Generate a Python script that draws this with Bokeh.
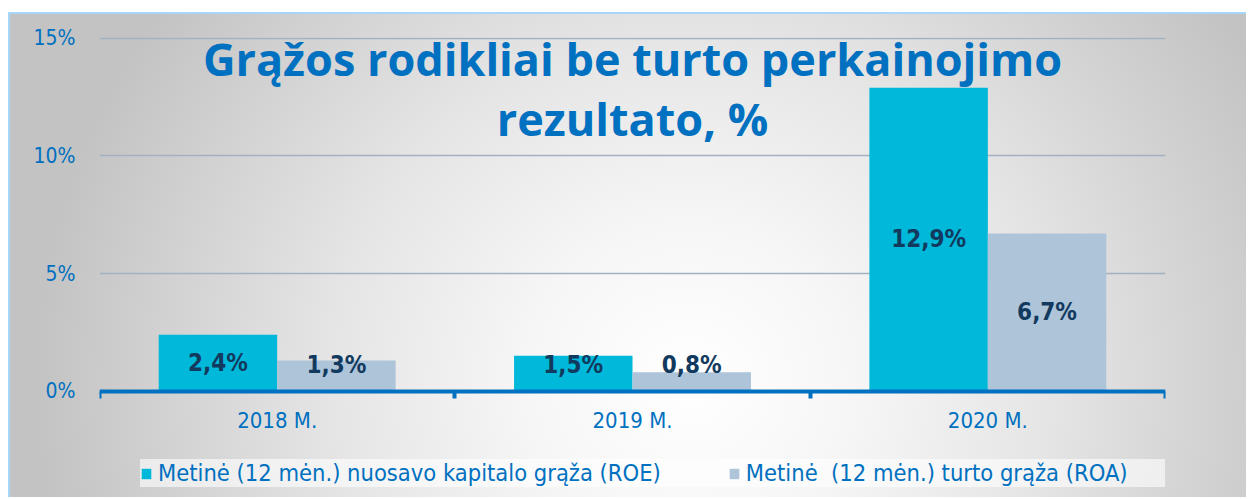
import numpy as np
from bokeh.plotting import figure
from bokeh.models import (ColumnDataSource, FixedTicker, Label, LabelSet, Legend,
                          LegendItem, Range1d)
from bokeh.transform import dodge
from bokeh.core.properties import value
from bokeh.embed import file_html
from bokeh.resources import INLINE

# ---- data ----
years = ["2018 M.", "2019 M.", "2020 M."]
roe = [2.4, 1.5, 12.9]
roa = [1.3, 0.8, 6.7]
roe_labels = ["2,4%", "1,5%", "12,9%"]
roa_labels = ["1,3%", "0,8%", "6,7%"]
y_ticks = [0, 5, 10, 15]
y_tick_labels = ["0%", "5%", "10%", "15%"]
series_names = ["Metinė (12 mėn.) nuosavo kapitalo grąža (ROE)",
                "Metinė  (12 mėn.) turto grąža (ROA)"]
title_lines = ["Grąžos rodikliai be turto perkainojimo", "rezultato, %"]

# ---- styles ----
BLUE = "#0070C0"
ROE_COLOR = "#00B8D9"
ROA_COLOR = "#ADC4D9"
LABEL_COLOR = "#123A5E"
FONT = "DejaVu Sans Condensed"
LABEL_FLOOR = 1.13   # labels of short bars are kept clear of the axis

n = len(years)
centers = np.arange(n) + 0.5
bounds = np.arange(n + 1)
bar_w = 1 / 3

source = ColumnDataSource(dict(
    x=centers, roe=roe, roa=roa,
    roe_mid=[max(v / 2, LABEL_FLOOR) for v in roe],
    roa_mid=[max(v / 2, LABEL_FLOOR) for v in roa],
    roe_lbl=roe_labels, roa_lbl=roa_labels,
))

# frame reaches the bottom edge so the legend can sit under the x axis
p = figure(width=1238, height=485, x_range=Range1d(0, n), y_range=Range1d(-4.61, 15.04),
           output_backend="svg", toolbar_location=None,
           min_border_left=89, min_border_right=83, min_border_top=23,
           min_border_bottom=0)
p.background_fill_color = None
p.border_fill_color = None
p.outline_line_color = None
p.styles = {
    "background": "radial-gradient(ellipse 53% 130% at 55% 76%, #ffffff 0%, #f6f6f6 25%, "
                  "#e5e5e5 55%, #c3c3c3 100%)",
    "margin-top": "12px",
    "margin-left": "8px",
    "border-top": "2px solid #A6D6F8",
    "border-left": "2px solid #A6D6F8",
}

# bars
r_roe = p.vbar(x=dodge("x", -bar_w / 2), top="roe", width=bar_w, source=source,
               fill_color=ROE_COLOR, line_color=None)
r_roa = p.vbar(x=dodge("x", bar_w / 2), top="roa", width=bar_w, source=source,
               fill_color=ROA_COLOR, line_color=None)

# data labels
for col, lbl, off in (("roe_mid", "roe_lbl", -bar_w / 2), ("roa_mid", "roa_lbl", bar_w / 2)):
    p.add_layout(LabelSet(x=dodge("x", off), y=col, text=lbl, source=source,
                          text_align="center", text_baseline="middle",
                          text_font=value(FONT), text_font_style="bold",
                          text_font_size="24px", text_color=LABEL_COLOR))

# y axis
yax = p.yaxis[0]
yax.ticker = FixedTicker(ticks=y_ticks)
yax.major_label_overrides = dict(zip(y_ticks, y_tick_labels))
yax.axis_line_color = None
yax.major_tick_line_color = None
yax.minor_tick_line_color = None
yax.major_label_standoff = 18
yax.major_label_text_color = BLUE
yax.major_label_text_font = FONT
yax.major_label_text_font_size = "21px"

p.ygrid.ticker = yax.ticker
p.ygrid.grid_line_color = "#A2B1BF"
p.ygrid.grid_line_width = 1.5
p.xgrid.grid_line_color = None

# x axis, pinned at zero
xax = p.xaxis[0]
xax.fixed_location = 0
xax.ticker = FixedTicker(ticks=list(centers), minor_ticks=list(bounds))
xax.major_label_overrides = {float(c): y for c, y in zip(centers, years)}
xax.axis_line_color = BLUE
xax.axis_line_width = 4
xax.major_tick_line_color = None
xax.major_tick_in = 0
xax.major_tick_out = 0
xax.minor_tick_line_color = BLUE
xax.minor_tick_line_width = 4
xax.minor_tick_in = 0
xax.minor_tick_out = 7
xax.major_label_standoff = 10
xax.major_label_text_color = BLUE
xax.major_label_text_font = FONT
xax.major_label_text_font_size = "22px"

# title
for text, yv in zip(title_lines, (14.13, 11.6)):
    p.add_layout(Label(x=n / 2, y=yv, text=text, text_align="center",
                       text_baseline="middle", text_font="Open Sans",
                       text_font_style="bold", text_font_size="45px",
                       text_color=BLUE))

# legend at the bottom of the frame
legend = Legend(items=[LegendItem(label=series_names[0], renderers=[r_roe]),
                       LegendItem(label=series_names[1], renderers=[r_roa])],
                orientation="horizontal", location=(41, 12),
                background_fill_color="#FFFFFF", background_fill_alpha=0.6,
                border_line_color=None, label_text_font=FONT,
                label_text_font_size="23.5px", label_text_color=BLUE,
                glyph_width=12, glyph_height=13, label_standoff=6,
                label_height=22, label_width=438, spacing=67, padding=11,
                margin=0)
p.add_layout(legend, "center")

open("out.html", "w").write(file_html(p, INLINE))
